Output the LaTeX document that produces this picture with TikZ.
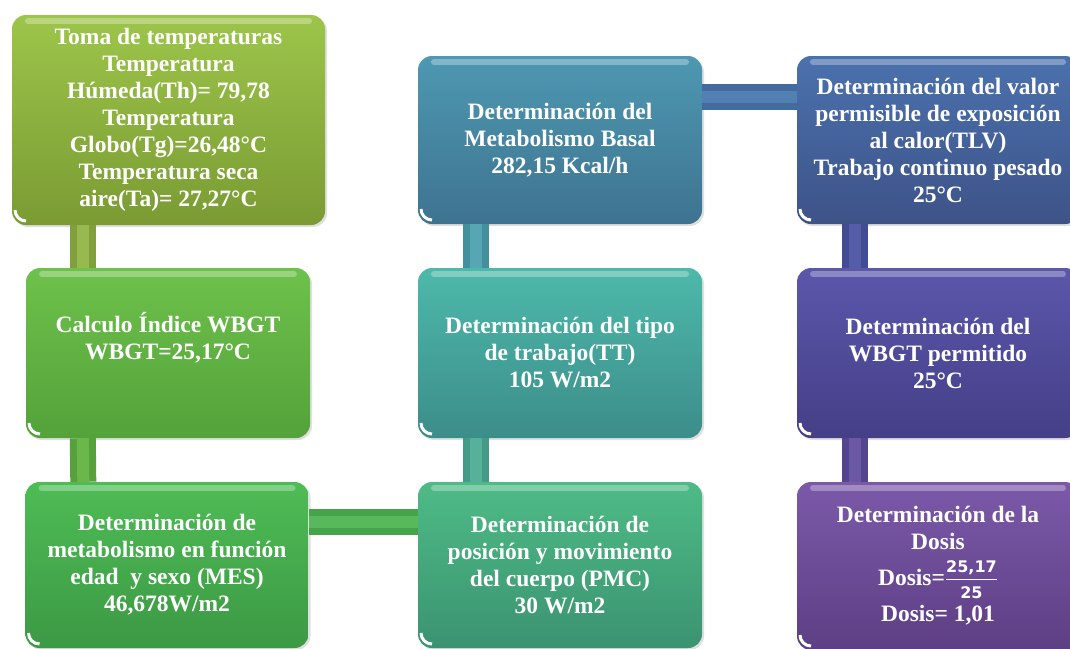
\documentclass[tikz,border=0pt]{standalone}
\usepackage{fontspec}
\setmainfont{Liberation Serif}
\newfontfamily\fracfont{DejaVu Sans}
\usetikzlibrary{shadows}

\definecolor{tomaT}{HTML}{9DC54A}\definecolor{tomaB}{HTML}{7A9B33}
\definecolor{wbgtT}{HTML}{6EC14B}\definecolor{wbgtB}{HTML}{53A23A}
\definecolor{mesT}{HTML}{4EBC55}\definecolor{mesB}{HTML}{3C9944}
\definecolor{pmcT}{HTML}{4EBB86}\definecolor{pmcB}{HTML}{3B9371}
\definecolor{ttT}{HTML}{4DB9AB}\definecolor{ttB}{HTML}{3C8D89}
\definecolor{basalT}{HTML}{4E98B1}\definecolor{basalB}{HTML}{3E7390}
\definecolor{tlvT}{HTML}{4B71AD}\definecolor{tlvB}{HTML}{3D5388}
\definecolor{permT}{HTML}{5B57AB}\definecolor{permB}{HTML}{453F87}
\definecolor{dosisT}{HTML}{7B59A9}\definecolor{dosisB}{HTML}{5D3F84}
\definecolor{barA}{HTML}{7FA03A}\definecolor{barAl}{HTML}{98B950}
\definecolor{barB}{HTML}{56A13C}\definecolor{barBl}{HTML}{6BB74C}
\definecolor{barC}{HTML}{45A449}\definecolor{barCl}{HTML}{58B95C}
\definecolor{barD}{HTML}{439A86}\definecolor{barDl}{HTML}{56B09A}
\definecolor{barE}{HTML}{438F9E}\definecolor{barEl}{HTML}{57A6B4}
\definecolor{barF}{HTML}{426C9E}\definecolor{barFl}{HTML}{5380B2}
\definecolor{barG}{HTML}{434B92}\definecolor{barGl}{HTML}{565DA8}
\definecolor{barH}{HTML}{55448E}\definecolor{barHl}{HTML}{6A58A4}

\newcommand{\fracnum}[1]{\mbox{\fontsize{16}{16}\selectfont\fracfont\bfseries #1}}

\tikzset{
  box/.style 2 args={rectangle, rounded corners=14pt, top color=#1, bottom color=#2,
    text=white, align=center, inner sep=0pt,
    font=\fontsize{23.5}{27}\selectfont\bfseries,
    drop shadow={opacity=0.25, shadow xshift=2pt, shadow yshift=-2pt},
    path picture={
      \draw[white, opacity=0.3, line width=6pt, line cap=round]
        ([xshift=16pt,yshift=-6pt]path picture bounding box.north west) --
        ([xshift=-16pt,yshift=-6pt]path picture bounding box.north east);
      \draw[white, line width=3pt]
        ([shift={(3pt,15pt)}]path picture bounding box.south west)
        arc[start angle=180, end angle=270, radius=11pt];
    }},
  bar/.style 2 args={draw=#1, double=#2, line width=7pt, double distance=12pt}
}

\begin{document}
\begin{tikzpicture}[x=1pt, y=-1pt]
  \useasboundingbox (0,0) rectangle (1070,648);
  \clip (0,0) rectangle (1070,648);
  \begin{scope}
    \node[box={tomaT}{tomaB}, minimum width=313pt, minimum height=210pt] (1) at (168.5,120)
      {Toma de temperaturas\\Temperatura\\Húmeda(Th)= 79,78\\Temperatura\\Globo(Tg)=26,48°C\\Temperatura seca\\aire(Ta)= 27,27°C};
    \node[box={wbgtT}{wbgtB}, minimum width=284pt, minimum height=170pt] (2) at (168,353)
      {Calculo Índice WBGT\\WBGT=25,17°C\\\strut};
    \node[box={mesT}{mesB}, minimum width=283pt, minimum height=166pt] (3) at (167,565)
      {Determinación de\\metabolismo en función\\edad\ \ y sexo (MES)\\46,678W/m2};
    \node[box={pmcT}{pmcB}, minimum width=284pt, minimum height=166pt] (4) at (560,565)
      {Determinación de\\posición y movimiento\\del cuerpo (PMC)\\30 W/m2};
    \node[box={ttT}{ttB}, minimum width=284pt, minimum height=170pt] (5) at (560,353)
      {Determinación del tipo\\de trabajo(TT)\\105 W/m2};
    \node[box={basalT}{basalB}, minimum width=284pt, minimum height=168pt] (6) at (560,140)
      {Determinación del\\Metabolismo Basal\\282,15 Kcal/h};
    \node[box={tlvT}{tlvB}, minimum width=282pt, minimum height=168pt] (7) at (938,140)
      {Determinación del valor\\permisible de exposición\\al calor(TLV)\\Trabajo continuo pesado\\25°C};
    \node[box={permT}{permB}, minimum width=282pt, minimum height=170pt] (8) at (938,353)
      {Determinación del\\WBGT permitido\\25°C};
    \node[box={dosisT}{dosisB}, minimum width=282pt, minimum height=168pt] (9) at (938,566)
      {Determinación de la\\Dosis\\[9pt]Dosis=$\frac{\fracnum{25,17}\rule[-7pt]{0pt}{7pt}}{\rule{0pt}{18pt}\fracnum{25}}$\\[6pt]Dosis= 1,01};
  \end{scope}
  \begin{scope}
    \path ([xshift=71pt]1.south west) edge[bar={barA}{barAl}] ([xshift=57pt]2.north west);
    \path ([xshift=57pt]2.south west) edge[bar={barB}{barBl}] ([xshift=58pt]3.north west);
    \path ([yshift=43pt]3.east) edge[bar={barC}{barCl}] ([yshift=43pt]4.west);
    \path ([xshift=58pt]4.north west) edge[bar={barD}{barDl}] ([xshift=58pt]5.south west);
    \path ([xshift=58pt]5.north west) edge[bar={barE}{barEl}] ([xshift=58pt]6.south west);
    \path ([yshift=43pt]6.east) edge[bar={barF}{barFl}] ([yshift=43pt]7.west);
    \path ([xshift=58pt]7.south west) edge[bar={barG}{barGl}] ([xshift=58pt]8.north west);
    \path ([xshift=58pt]8.south west) edge[bar={barH}{barHl}] ([xshift=58pt]9.north west);
  \end{scope}
\end{tikzpicture}
\end{document}
